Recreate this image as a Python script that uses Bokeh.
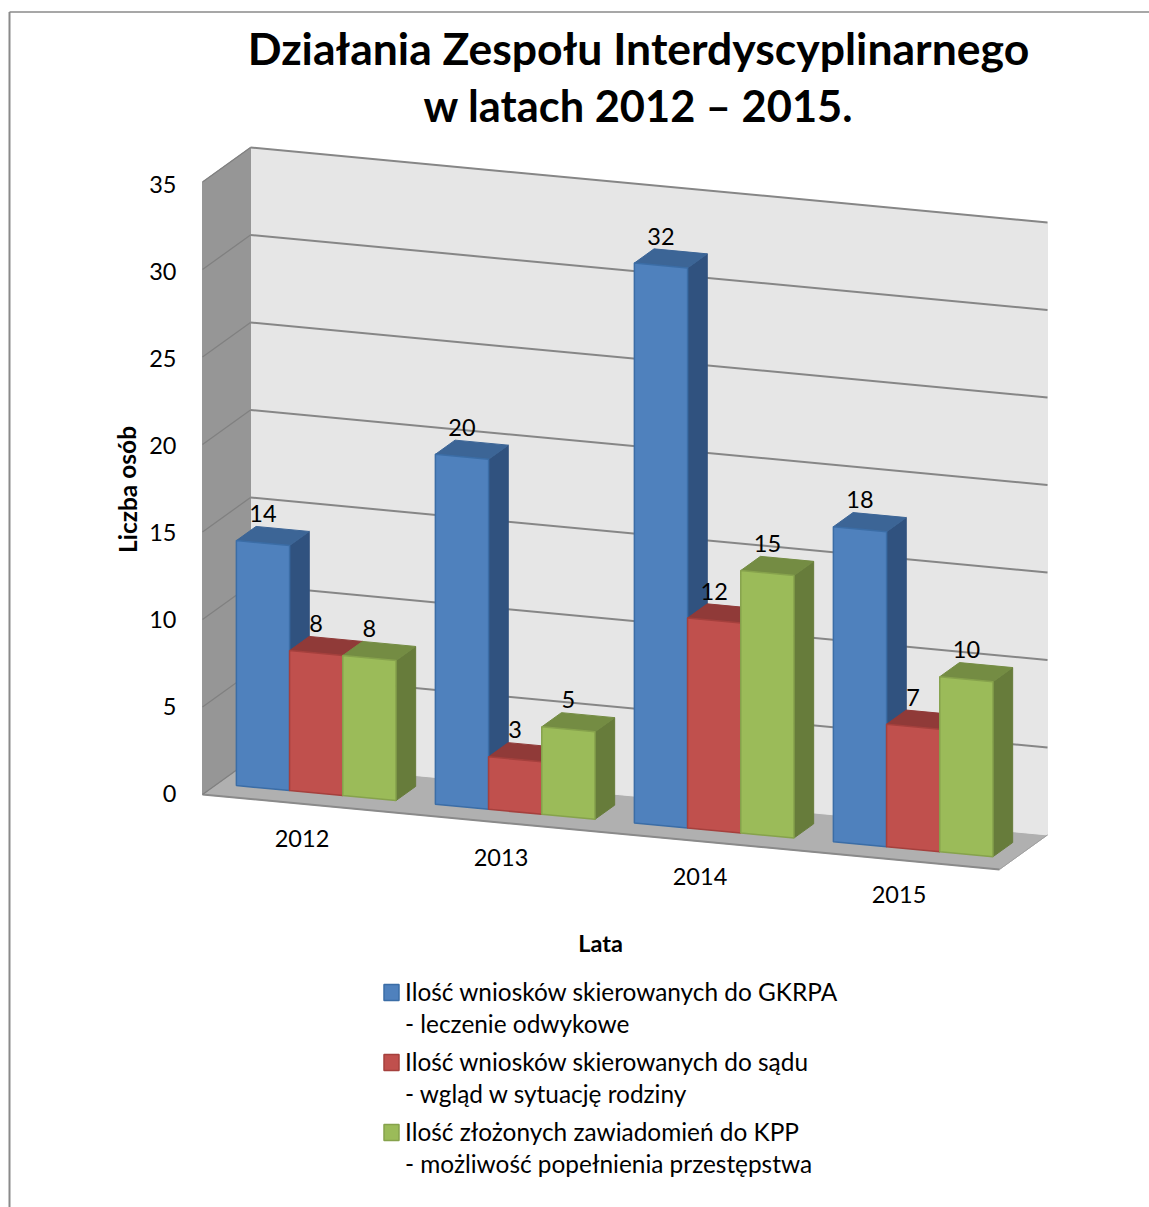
from bokeh.plotting import figure
from bokeh.embed import file_html
from bokeh.resources import INLINE
from bokeh.core.properties import value

# ---- data ----
years = ["2012", "2013", "2014", "2015"]
wnioski_gkrpa = [14, 20, 32, 18]
wnioski_sad = [8, 3, 12, 7]
zawiadomienia_kpp = [8, 5, 15, 10]
y_ticks = [0, 5, 10, 15, 20, 25, 30, 35]
legend_lines = [
    ["Ilość wniosków skierowanych do GKRPA", "- leczenie odwykowe"],
    ["Ilość wniosków skierowanych do sądu", "- wgląd w sytuację rodziny"],
    ["Ilość złożonych zawiadomień do KPP", "- możliwość popełnienia przestępstwa"],
]
title_lines = ["Działania Zespołu Interdyscyplinarnego", "w latach 2012 – 2015."]

# ---- styles ----
FONT = "Lato"
FRONT = ["#4F81BD", "#C0504D", "#9BBB59"]
EDGE = ["#3B6DA6", "#A5403D", "#86A24C"]
TOP = ["#3C6596", "#903A38", "#748C43"]
SIDE = ["#30527F", "#7E3230", "#677C3B"]

# ---- oblique projection: u along the floor, d into depth (0..1), z = value ----
OX, OY = 202.0, 794.0
DX, DY = 48.0, -34.5
SLOPE = 0.094
ZS = 17.5
TICK_ZS = 17.4
U_LEN = 797.0
STEP = 199.0
GAP = 19.0
BW = 53.2
D0, D1 = 0.31, 0.72


def P(u, d, z):
    return OX + u + DX * d, OY + SLOPE * u + DY * d - ZS * z


p = figure(width=1149, height=1207, x_range=(0, 1149), y_range=(1207, 0),
           output_backend="svg", toolbar_location=None, min_border=0,
           outline_line_color=None, background_fill_color="white")
p.xaxis.visible = False
p.yaxis.visible = False
p.grid.visible = False


def poly(pts, fill, line=None, lw=1.0):
    p.patch([a for a, _ in pts], [b for _, b in pts], fill_color=fill,
            line_color=line if line else fill, line_width=lw)


def label(x, y, s, size, bold=False, align="center", angle=0.0):
    p.text([x], [y], text=[s], text_font=value(FONT), text_font_size=f"{size}px",
           text_font_style="bold" if bold else "normal", text_align=align,
           text_baseline="middle", text_color="black", angle=angle)


# chart frame
p.line([9, 9], [1207, 11.5], line_color="#8A8A8A", line_width=2)
p.line([9, 1149], [11.5, 11.5], line_color="#8A8A8A", line_width=1.5)

# walls and floor
z_top = y_ticks[-1]
poly([P(0, 0, 0), P(U_LEN, 0, 0), P(U_LEN, 1, 0), P(0, 1, 0)], "#B0B0B0")
poly([P(0, 1, 0), P(U_LEN, 1, 0), P(U_LEN, 1, z_top), P(0, 1, z_top)], "#E6E6E6")
poly([P(0, 0, 0), P(0, 1, 0), P(0, 1, z_top), P(0, 0, z_top)], "#969696")
a, b = P(0, 0, 0), P(U_LEN, 0, 0)
p.line([a[0], b[0]], [a[1], b[1]], line_color="#8A8A8A", line_width=2)
a, b = P(U_LEN, 0, 0), P(U_LEN, 1, 0)
p.line([a[0], b[0]], [a[1], b[1]], line_color="#A0A0A0", line_width=1)

for t in y_ticks:
    a, b, c = P(0, 0, t), P(0, 1, t), P(U_LEN, 1, t)
    p.line([a[0], b[0]], [a[1], b[1]], line_color="#808080", line_width=1.3)
    if t > 0:
        p.line([b[0], c[0]], [b[1], c[1]], line_color="#868686", line_width=2)
    label(176, OY - 1 - TICK_ZS * t, str(t), 23.5, align="right")

# bars
series = [wnioski_gkrpa, wnioski_sad, zawiadomienia_kpp]
for ci, year in enumerate(years):
    for si, vals in enumerate(series):
        v = vals[ci]
        u0 = ci * STEP + GAP + si * BW
        u1 = u0 + BW
        poly([P(u1, D0, 0), P(u1, D1, 0), P(u1, D1, v), P(u1, D0, v)], SIDE[si], SIDE[si], 1)
        poly([P(u0, D0, v), P(u1, D0, v), P(u1, D1, v), P(u0, D1, v)], TOP[si], TOP[si], 1)
        poly([P(u0, D0, 0), P(u1, D0, 0), P(u1, D0, v), P(u0, D0, v)], FRONT[si], EDGE[si], 1.5)
for ci, year in enumerate(years):
    for si, vals in enumerate(series):
        v = vals[ci]
        x, y = P(ci * STEP + GAP + (si + 0.5) * BW, D0, v)
        label(x, y - 29.5, str(v), 23.5)
    x, y = P((ci + 0.5) * STEP, 0, 0)
    label(x, y + 35, year, 23.5)

# titles
label(638, 46.5, title_lines[0], 44.5, bold=True)
label(638, 104.5, title_lines[1], 43.4, bold=True)
label(126.5, 489, "Liczba osób", 24.5, bold=True, angle=1.5708)
label(600, 942, "Lata", 23.5, bold=True)

# legend
for i, (lines, yy) in enumerate(zip(legend_lines, [992, 1062, 1132])):
    poly([(383.5, yy - 8), (398.5, yy - 8), (398.5, yy + 8), (383.5, yy + 8)], FRONT[i], EDGE[i], 1.5)
    label(404.5, yy - 1, lines[0], 24.4, align="left")
    label(404.5, yy + 31, lines[1], 24.4, align="left")

open("out.html", "w").write(file_html(p, INLINE))
